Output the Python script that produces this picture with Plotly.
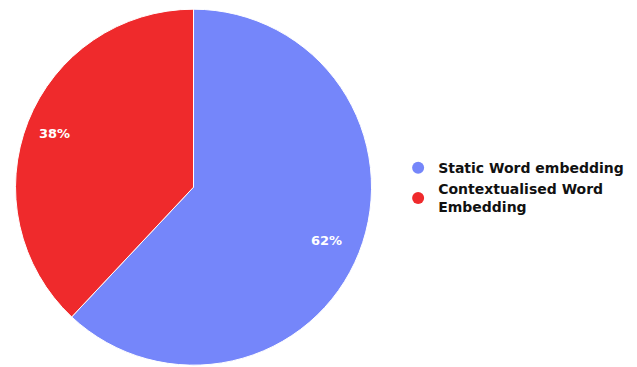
import math
import plotly.graph_objects as go

labels = ["Static Word embedding", "Contextualised Word Embedding"]
legend_text = ["<b>Static Word embedding</b>", "<b>Contextualised Word<br>Embedding</b>"]
values = [62, 38]
colors = ["#7586FA", "#EF2A2C"]

W, H = 637, 367
dom_x = [0.0236, 0.584]
dom_y = [0.005, 0.975]

fig = go.Figure()
fig.add_trace(go.Pie(
    labels=labels, values=values, sort=False, direction="clockwise", rotation=0,
    marker=dict(colors=colors, line=dict(color="white", width=1)),
    textinfo="none",
    showlegend=False, domain=dict(x=dom_x, y=dom_y),
    hoverinfo="label+percent",
))
for name, col in zip(legend_text, colors):
    fig.add_trace(go.Scatter(x=[None], y=[None], mode="markers", name=name,
                             marker=dict(symbol="circle", size=15, color=col)))

# percentage labels placed on each slice's mid-angle, inside the slice
cx = (dom_x[0] + dom_x[1]) / 2 * W
cy = (1 - (dom_y[0] + dom_y[1]) / 2) * H
radius = min((dom_x[1] - dom_x[0]) * W, (dom_y[1] - dom_y[0]) * H) / 2
total = sum(values)
cum = 0
for v in values:
    mid = (cum + v / 2) / total * 2 * math.pi
    cum += v
    d = 0.82 * radius
    px = cx + d * math.sin(mid) - 3
    py = cy - d * math.cos(mid)
    fig.add_annotation(x=px / W, y=1 - py / H, xref="paper", yref="paper",
                       xanchor="center", yanchor="middle",
                       text=f"<b>{round(v / total * 100)}%</b>", showarrow=False,
                       font=dict(color="white", size=13, family="DejaVu Sans"))

fig.update_layout(
    width=W, height=H, margin=dict(l=0, r=0, t=0, b=0),
    paper_bgcolor="white", plot_bgcolor="white",
    xaxis=dict(visible=False), yaxis=dict(visible=False),
    legend=dict(x=0.625, y=0.489, yanchor="middle", xanchor="left",
                font=dict(family="DejaVu Sans", size=14, color="#111"),
                itemsizing="constant"),
)
fig.write_html("out.html", config={"displayModeBar": False},
               post_script="document.body.style.margin='0';")
